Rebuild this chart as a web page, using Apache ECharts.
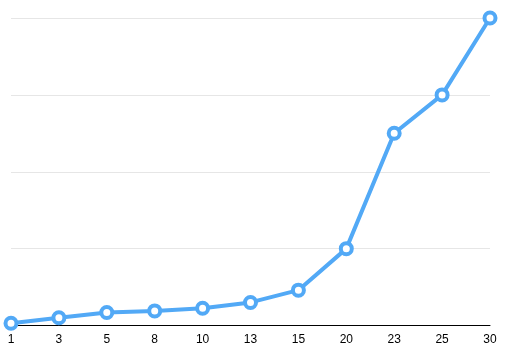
<!DOCTYPE html>
<html><head><meta charset="utf-8">
<script src="https://cdn.jsdelivr.net/npm/echarts@6/dist/echarts.min.js"></script>
<style>html,body{margin:0;padding:0;background:#fff}#c{width:512px;height:349px}</style>
</head><body><div id="c"></div>
<script>
var categories = ['1','3','5','8','10','13','15','20','23','25','30'];
var values = [30, 100, 170, 190, 225, 300, 460, 1000, 2500, 3000, 4000];
var chart = echarts.init(document.getElementById('c'), null, {renderer:'canvas'});
chart.setOption({
  animation:false,
  grid:{left:11, right:22, top:18, bottom:23.5, containLabel:false},
  xAxis:{type:'category', data:categories, boundaryGap:false,
    axisLine:{lineStyle:{color:'#000', width:1}},
    axisTick:{show:false},
    axisLabel:{color:'#000', fontSize:12, fontFamily:'Liberation Sans, Arial, sans-serif', margin:8, interval:0}},
  yAxis:{type:'value', min:0, max:4000, interval:1000,
    axisLabel:{show:false}, axisLine:{show:false}, axisTick:{show:false},
    splitLine:{lineStyle:{color:'#e6e6e6', width:1}}},
  series:[{type:'line', data:values, symbol:'circle', symbolSize:11,
    lineStyle:{color:'#52a9f6', width:4},
    itemStyle:{color:'#fff', borderColor:'#52a9f6', borderWidth:4}}]
});
</script></body></html>
